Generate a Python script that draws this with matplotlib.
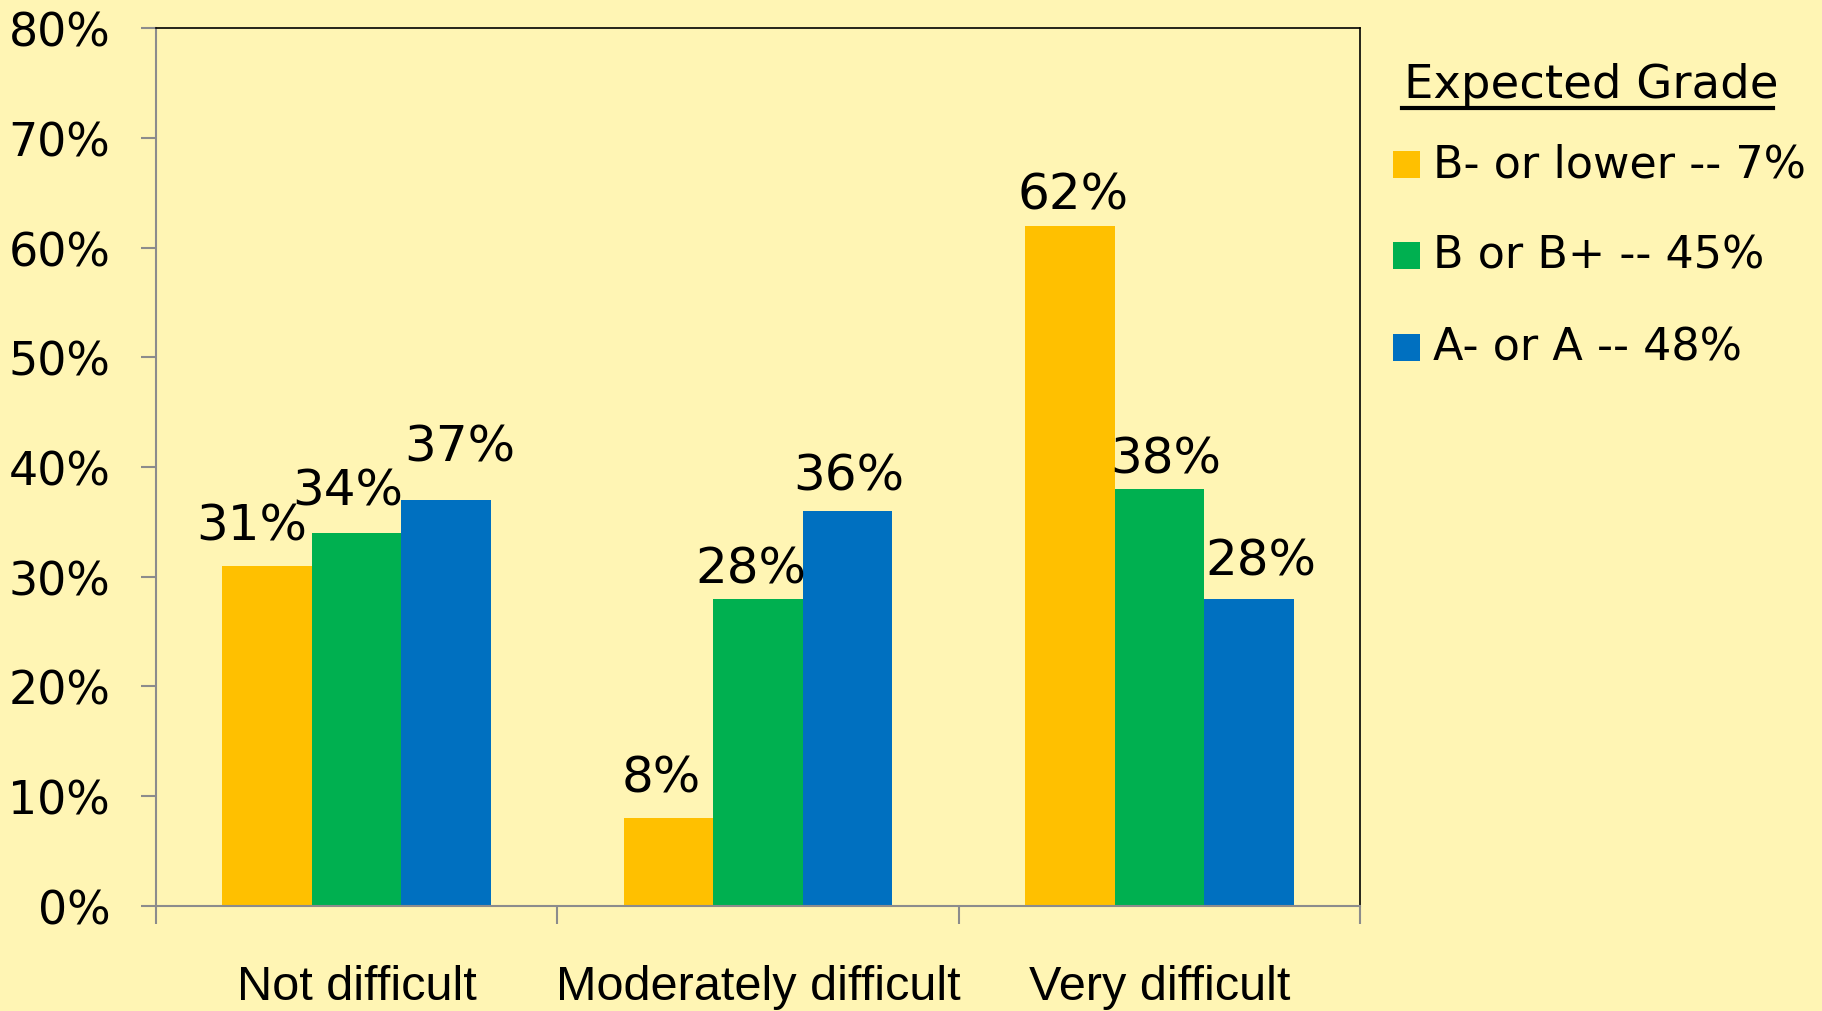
import matplotlib
matplotlib.use('Agg')
import matplotlib.pyplot as plt
import numpy as np
from matplotlib.patches import Rectangle
from matplotlib.lines import Line2D

# Data
categories = ['Not difficult', 'Moderately difficult', 'Very difficult']
series_names = ['B- or lower -- 7%', 'B or B+ -- 45%', 'A- or A -- 48%']
b_minus = [31, 8, 62]
b_plus = [34, 28, 38]
a_grade = [37, 36, 28]
y_ticks = [0, 10, 20, 30, 40, 50, 60, 70, 80]

bg_color = '#FFF5B4'
colors = ['#FFC000', '#00B050', '#0070C0']
axis_gray = '#8C8C8C'

plt.rcParams['font.family'] = 'DejaVu Sans'

fig = plt.figure(figsize=(18.22, 10.12), dpi=100)
fig.patch.set_facecolor(bg_color)
ax = fig.add_axes([0.0856, 0.1038, 0.6608, 0.8675])
ax.set_facecolor(bg_color)

x = np.arange(len(categories))
width = 0.223
all_series = [b_minus, b_plus, a_grade]

# label offsets (pixels) to mimic hand-placed labels
label_dx = [[-15, -7, 3], [-9, -7, 6], [14, 1, 12]]
label_dy = [[40, 41, 31], [42, 30, 30], [53, 35, 38]]

for i, vals in enumerate(all_series):
    pos = x + (i - 1) * width
    ax.bar(pos, vals, width=width, color=colors[i], edgecolor='none', zorder=2)
    for j, v in enumerate(vals):
        ax.annotate(f'{v}%', (pos[j], v), xytext=(label_dx[i][j] * 0.72, label_dy[i][j] * 0.72),
                    textcoords='offset points', ha='center', va='center',
                    fontsize=36, color='black')

ax.set_xlim(-0.5, 2.5)
ax.set_ylim(0, 80)
ax.set_yticks(y_ticks)
ax.set_yticklabels([f'{t}%' for t in y_ticks], fontsize=33)

# category boundary ticks, labels in between
ax.set_xticks([-0.5, 0.5, 1.5, 2.5])
ax.set_xticklabels([])
ax.set_xticks(x, minor=True)
ax.set_xticklabels(categories, minor=True, fontsize=35, family='Liberation Sans')
ax.tick_params(axis='x', which='major', direction='out', length=13, width=1.5, color=axis_gray)
ax.tick_params(axis='x', which='minor', length=0, pad=42)
ax.tick_params(axis='y', direction='out', length=11, width=1.5, color=axis_gray, pad=22)

ax.spines['left'].set_color(axis_gray)
ax.spines['bottom'].set_color(axis_gray)
ax.spines['left'].set_linewidth(1.5)
ax.spines['bottom'].set_linewidth(1.5)
ax.spines['top'].set_color('black')
ax.spines['right'].set_color('black')
ax.spines['top'].set_linewidth(1.2)
ax.spines['right'].set_linewidth(1.2)

# legend drawn by hand
W, H = 1822, 1012
fig.text(1404 / W, 1 - 86 / H, 'Expected Grade', fontsize=33.5, ha='left', va='center')
fig.add_artist(Line2D([1402 / W, 1773 / W], [1 - 109 / H, 1 - 109 / H], color='black', linewidth=3))
row_y = [165, 256, 348]
for i, name in enumerate(series_names):
    yc = row_y[i]
    fig.add_artist(Rectangle((1393 / W, 1 - (yc + 13.5) / H), 27 / W, 27 / H,
                             transform=fig.transFigure, facecolor=colors[i], edgecolor='none'))
    fig.text(1433 / W, 1 - yc / H, name, fontsize=32, ha='left', va='center')

fig.savefig('out.png', dpi=100, facecolor=bg_color)
